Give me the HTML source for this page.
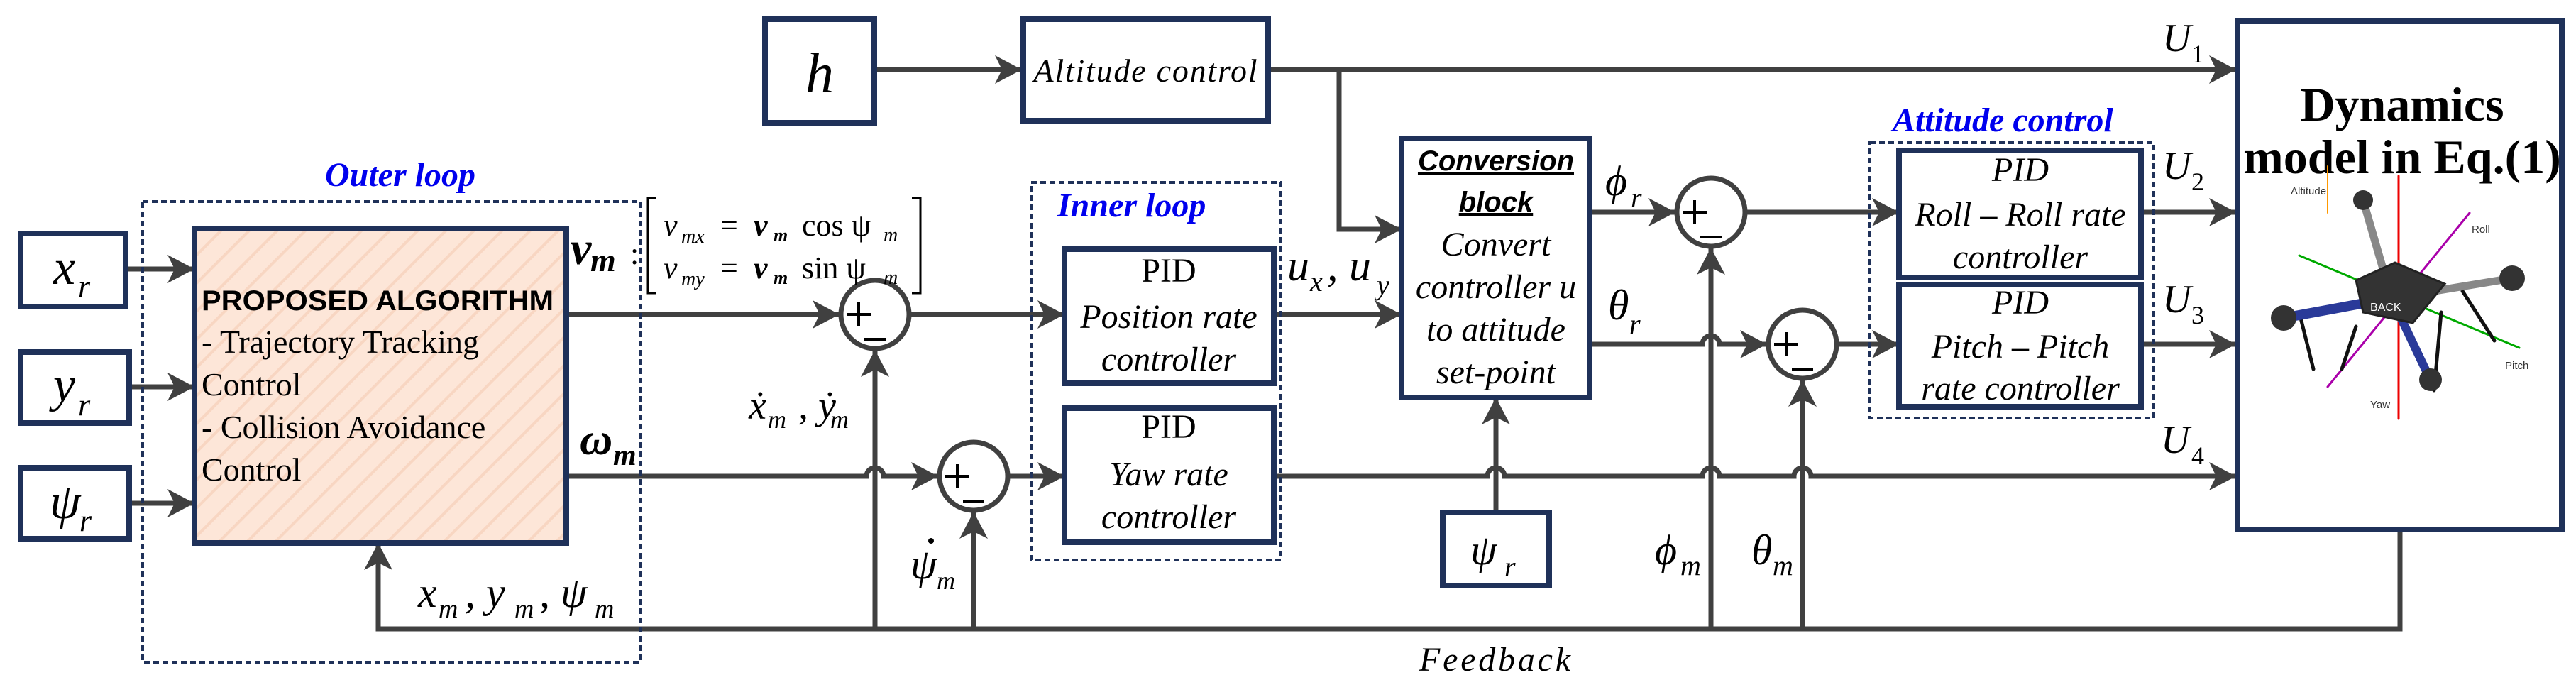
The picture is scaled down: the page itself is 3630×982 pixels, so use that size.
<!DOCTYPE html>
<html><head><meta charset="utf-8"><style>
html,body{margin:0;padding:0;background:#fff;}
svg{display:block;}
.it{font-family:"Liberation Serif",serif;font-style:italic;fill:#000;}
.rm{font-family:"Liberation Serif",serif;fill:#000;}
.bl{font-family:"Liberation Serif",serif;font-style:italic;font-weight:bold;fill:#0000ee;}
</style></head><body>
<svg width="3630" height="982" viewBox="0 0 3630 982" xmlns="http://www.w3.org/2000/svg">
<defs>
<marker id="a" markerUnits="userSpaceOnUse" markerWidth="44" markerHeight="44" refX="38" refY="20" orient="auto">
<path d="M0,0 L38,20 L0,40 L10,20 z" fill="#404040"/>
</marker>
<pattern id="st" patternUnits="userSpaceOnUse" width="28" height="28" patternTransform="rotate(45)">
<rect width="28" height="28" fill="#fde6d8"/><rect width="4" height="28" fill="#f8d6c2"/>
</pattern>
</defs>
<g fill="none" stroke="#404040" stroke-width="7">
<path d="M1232,98 H1440" marker-end="url(#a)"/>
<path d="M1787,98 H3151" marker-end="url(#a)"/>
<path d="M1887,98 V323 H1975" marker-end="url(#a)"/>
<path d="M177,379 H274" marker-end="url(#a)"/>
<path d="M182,545 H274" marker-end="url(#a)"/>
<path d="M182,709 H274" marker-end="url(#a)"/>
<path d="M798,443 H1183" marker-end="url(#a)"/>
<path d="M1283,443 H1500" marker-end="url(#a)"/>
<path d="M1795,443 H1975" marker-end="url(#a)"/>
<path d="M798,671 H1221 A12,12 0 0 1 1245,671 H1322" marker-end="url(#a)"/>
<path d="M1422,671 H1500" marker-end="url(#a)"/>
<path d="M1795,671 H2096 A12,12 0 0 1 2120,671 H2399 A12,12 0 0 1 2423,671 H2528 A12,12 0 0 1 2552,671 H3151" marker-end="url(#a)"/>
<path d="M2240,299 H2361" marker-end="url(#a)"/>
<path d="M2461,299 H2676" marker-end="url(#a)"/>
<path d="M2240,485 H2399 A12,12 0 0 1 2423,485 H2490" marker-end="url(#a)"/>
<path d="M2590,485 H2676" marker-end="url(#a)"/>
<path d="M3017,299 H3151" marker-end="url(#a)"/>
<path d="M3017,485 H3151" marker-end="url(#a)"/>
<path d="M3382,748 V886 H533 V765" marker-end="url(#a)"/>
<path d="M1233,886 V493" marker-end="url(#a)"/>
<path d="M1372,886 V721" marker-end="url(#a)"/>
<path d="M2411,886 V349" marker-end="url(#a)"/>
<path d="M2540,886 V535" marker-end="url(#a)"/>
<path d="M2108,722 V560" marker-end="url(#a)"/>
</g>
<g fill="#fff" stroke="#404040" stroke-width="7">
<circle cx="1233" cy="443" r="48"/><circle cx="1372" cy="671" r="48"/>
<circle cx="2411" cy="299" r="48"/><circle cx="2540" cy="485" r="48"/>
</g>
<g stroke="#000" stroke-width="4">
<path d="M1193,443 h34 M1210,426 v34 M1218,478 h30"/>
<path d="M1332,671 h34 M1349,654 v34 M1357,706 h30"/>
<path d="M2371,299 h34 M2388,282 v34 M2396,334 h30"/>
<path d="M2500,485 h34 M2517,468 v34 M2525,520 h30"/>
</g>
<g fill="none" stroke="#1f3159" stroke-width="4" stroke-dasharray="8,5">
<rect x="201" y="284" width="701" height="649"/>
<rect x="1453" y="257" width="352" height="532"/>
<rect x="2635" y="201" width="400" height="388"/>
</g>
<g stroke="#1f3159" stroke-width="8" fill="#fff">
<rect x="1078" y="27" width="154" height="146"/>
<rect x="1442" y="27" width="345" height="143"/>
<rect x="29" y="329" width="148" height="103"/>
<rect x="29" y="496" width="153" height="100"/>
<rect x="29" y="659" width="153" height="100"/>
<rect x="274" y="322" width="524" height="443" fill="url(#st)"/>
<rect x="1500" y="351" width="295" height="189"/>
<rect x="1500" y="575" width="295" height="189"/>
<rect x="1975" y="195" width="265" height="365"/>
<rect x="2033" y="722" width="150" height="103"/>
<rect x="2676" y="212" width="341" height="179"/>
<rect x="2676" y="401" width="341" height="172"/>
<rect x="3153" y="30" width="457" height="716"/>
</g>
<text class="it" x="1155" y="130" font-size="80" text-anchor="middle">h</text>
<text class="it" x="1614" y="115" font-size="46" text-anchor="middle" textLength="315">Altitude control</text>
<text class="it" x="75" y="400" font-size="70">x</text><text class="it" x="110" y="418" font-size="44">r</text>
<text class="it" x="75" y="565" font-size="70">y</text><text class="it" x="110" y="585" font-size="44">r</text>
<text class="it" x="70" y="730" font-size="70">ψ</text><text class="it" x="112" y="748" font-size="44">r</text>
<text class="bl" x="564" y="262" font-size="48" text-anchor="middle">Outer loop</text>
<text class="bl" x="1490" y="305" font-size="48">Inner loop</text>
<text class="bl" x="2667" y="185" font-size="48">Attitude control</text>
<text x="284" y="437" font-family="Liberation Sans,sans-serif" font-weight="bold" font-size="40" textLength="496" lengthAdjust="spacingAndGlyphs">PROPOSED ALGORITHM</text>
<g class="rm" font-size="46">
<text x="284" y="497">- Trajectory Tracking</text>
<text x="284" y="557">Control</text>
<text x="284" y="617">- Collision Avoidance</text>
<text x="284" y="677">Control</text>
</g>
<text class="it" x="804" y="372" font-size="66" font-weight="bold">v</text><text class="it" x="832" y="382" font-size="46" font-weight="bold">m</text>
<text class="rm" x="888" y="372" font-size="44">:</text>
<path d="M925,279 h-12 v134 h12 M1285,279 h12 v134 h-12" fill="none" stroke="#000" stroke-width="3"/>
<g class="it" font-size="44">
<text x="935" y="332">v</text><text x="960" y="342" font-size="28">mx</text>
<text x="1015" y="332" font-style="normal">=</text><text x="1062" y="332" font-weight="bold">v</text><text x="1090" y="340" font-size="26" font-weight="bold">m</text>
<text x="1130" y="332" font-style="normal">cos ψ</text><text x="1245" y="340" font-size="28">m</text>
<text x="935" y="392">v</text><text x="960" y="402" font-size="28">my</text>
<text x="1015" y="392" font-style="normal">=</text><text x="1062" y="392" font-weight="bold">v</text><text x="1090" y="400" font-size="26" font-weight="bold">m</text>
<text x="1130" y="392" font-style="normal">sin ψ</text><text x="1245" y="400" font-size="28">m</text>
</g>
<text class="it" x="817" y="640" font-size="64" font-weight="bold">ω</text><text class="it" x="864" y="655" font-size="42" font-weight="bold">m</text>
<text class="it" x="1055" y="590" font-size="56">ẋ</text><text class="it" x="1082" y="603" font-size="36">m</text><text class="it" x="1125" y="590" font-size="56">, ẏ</text><text class="it" x="1170" y="603" font-size="36">m</text>
<text class="it" x="1283" y="815" font-size="60">ψ</text><circle cx="1312" cy="762" r="4" fill="#000"/><text class="it" x="1320" y="830" font-size="36">m</text>
<text class="it" x="589" y="855" font-size="60">x</text><text class="it" x="618" y="870" font-size="38">m</text>
<text class="it" x="655" y="855" font-size="60">, y</text><text class="it" x="725" y="870" font-size="38">m</text>
<text class="it" x="760" y="855" font-size="60">, ψ</text><text class="it" x="838" y="870" font-size="38">m</text>
<g class="rm" font-size="48" text-anchor="middle">
<text x="1647" y="397">PID</text><text x="1647" y="617">PID</text>
</g>
<g class="it" font-size="48" text-anchor="middle">
<text x="1647" y="462">Position rate</text><text x="1647" y="522">controller</text>
<text x="1647" y="684">Yaw rate</text><text x="1647" y="744">controller</text>
<text x="2847" y="255">PID</text><text x="2847" y="318">Roll – Roll rate</text><text x="2847" y="378">controller</text>
<text x="2847" y="442">PID</text><text x="2847" y="504">Pitch – Pitch</text><text x="2847" y="563">rate controller</text>
<text x="2108" y="360">Convert</text><text x="2108" y="420">controller u</text><text x="2108" y="480">to attitude</text><text x="2108" y="540">set-point</text>
</g>
<g font-family="Liberation Sans,sans-serif" font-style="italic" font-weight="bold" font-size="40" text-anchor="middle" text-decoration="underline">
<text x="2108" y="240">Conversion</text><text x="2108" y="298">block</text>
</g>
<text class="it" x="1814" y="395" font-size="62">u</text><text class="it" x="1846" y="410" font-size="40">x</text>
<text class="it" x="1870" y="395" font-size="62">, u</text><text class="it" x="1940" y="415" font-size="40">y</text>
<text class="it" x="2262" y="275" font-size="60">ϕ</text><text class="it" x="2298" y="292" font-size="40">r</text>
<text class="it" x="2266" y="450" font-size="60">θ</text><text class="it" x="2296" y="470" font-size="40">r</text>
<text class="it" x="2072" y="795" font-size="60">ψ</text><text class="it" x="2120" y="812" font-size="40">r</text>
<text class="it" x="2332" y="795" font-size="60">ϕ</text><text class="it" x="2368" y="810" font-size="40">m</text>
<text class="it" x="2468" y="795" font-size="60">θ</text><text class="it" x="2498" y="810" font-size="40">m</text>
<text class="it" x="2000" y="945" font-size="48" textLength="213">Feedback</text>
<g class="it" font-size="56">
<text x="3047" y="72">U</text><text x="3088" y="88" font-size="36" font-style="normal">1</text>
<text x="3047" y="252">U</text><text x="3088" y="268" font-size="36" font-style="normal">2</text>
<text x="3047" y="440">U</text><text x="3088" y="456" font-size="36" font-style="normal">3</text>
<text x="3045" y="638">U</text><text x="3088" y="654" font-size="36" font-style="normal">4</text>
</g>
<g class="rm" font-size="68" font-weight="bold" text-anchor="middle">
<text x="3385" y="170">Dynamics</text><text x="3385" y="244">model in Eq.(1)</text>
</g>
<g stroke-linecap="round">
<line x1="3240" y1="360" x2="3550" y2="490" stroke="#0a0" stroke-width="3"/>
<line x1="3380" y1="248" x2="3380" y2="590" stroke="#e00" stroke-width="3"/>
<line x1="3280" y1="545" x2="3480" y2="300" stroke="#a0a" stroke-width="3"/>
<line x1="3280" y1="234" x2="3280" y2="300" stroke="#f90" stroke-width="2"/>
<path d="M3240,440 L3260,520 M3320,460 L3300,520 M3440,440 L3430,550 M3470,410 L3515,480" stroke="#111" stroke-width="5" fill="none"/>
<line x1="3218" y1="448" x2="3370" y2="420" stroke="#2a3a99" stroke-width="14"/>
<line x1="3370" y1="420" x2="3420" y2="525" stroke="#2a3a99" stroke-width="12"/>
<line x1="3330" y1="282" x2="3370" y2="420" stroke="#888" stroke-width="11"/>
<line x1="3370" y1="420" x2="3540" y2="392" stroke="#888" stroke-width="11"/>
<path d="M3320,395 L3375,370 L3445,400 L3400,455 L3330,440 z" fill="#333" stroke="#222" stroke-width="3"/>
<circle cx="3218" cy="448" r="18" fill="#333"/><circle cx="3330" cy="282" r="14" fill="#333"/>
<circle cx="3540" cy="392" r="18" fill="#333"/><circle cx="3425" cy="535" r="16" fill="#333"/>
<text x="3340" y="438" font-family="Liberation Sans,sans-serif" font-size="16" fill="#fff">BACK</text>
<g font-family="Liberation Sans,sans-serif" font-size="15" fill="#333">
<text x="3228" y="274">Altitude</text><text x="3483" y="328">Roll</text><text x="3530" y="520">Pitch</text><text x="3340" y="575">Yaw</text>
</g>
</g>
</svg>
</body></html>
